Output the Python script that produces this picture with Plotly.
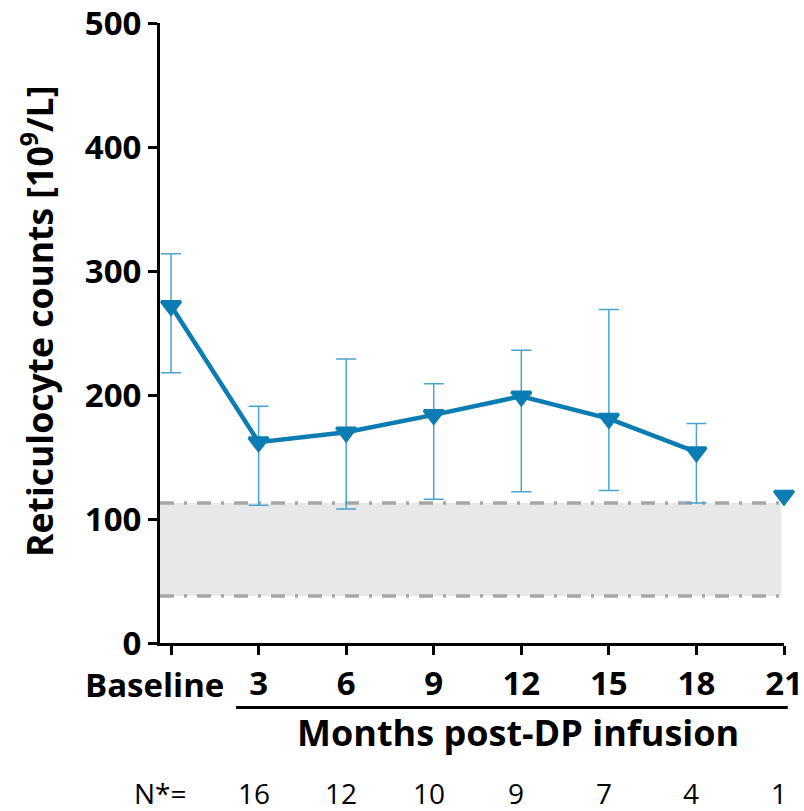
import plotly.graph_objects as go

categories = ["Baseline", "3", "6", "9", "12", "15", "18", "21"]
means = [272, 162, 170, 184, 199, 181, 154, 119]
upper = [314, 191, 229, 209, 236, 269, 177, None]
lower = [218, 111, 108, 116, 122, 123, 113, None]
n_counts = ["16", "12", "10", "9", "7", "4", "1"]
normal_low = 38
normal_high = 113
y_ticks = [0, 100, 200, 300, 400, 500]

BLUE = "#0B7DB3"
ERR = "#4AA3D0"
GRAY = "#A6A6A6"
FONT = "Open Sans"

idx = list(range(len(categories)))
line_x = idx[:-1]
line_y = means[:-1]
err_plus = [u - m for u, m in zip(upper[:-1], means[:-1])]
err_minus = [m - l for l, m in zip(lower[:-1], means[:-1])]

xmin = -0.126
xmax = 7

marker_style = dict(symbol="triangle-down", size=17, color=BLUE,
                    line=dict(color=BLUE, width=3))

fig = go.Figure()

fig.add_trace(go.Scatter(
    x=line_x, y=line_y, mode="lines+markers",
    line=dict(color=BLUE, width=4.5),
    marker=marker_style,
    error_y=dict(type="data", symmetric=False, array=err_plus,
                 arrayminus=err_minus, color=ERR, thickness=1.5, width=10),
    cliponaxis=False, showlegend=False,
))
fig.add_trace(go.Scatter(
    x=[idx[-1]], y=[means[-1]], mode="markers",
    marker=marker_style,
    cliponaxis=False, showlegend=False,
))

fig.add_shape(type="rect", xref="x", yref="y", x0=xmin, x1=6.97,
              y0=normal_low, y1=normal_high, fillcolor="#E8E8E8",
              line=dict(width=0), layer="below")
for yv in (normal_low, normal_high):
    fig.add_shape(type="line", xref="x", yref="y", x0=xmin, x1=6.97,
                  y0=yv, y1=yv, layer="below",
                  line=dict(color=GRAY, width=3.5, dash="14px,10px,3px,10px"))

fig.add_shape(type="line", xref="paper", yref="paper", x0=0.122, x1=1.006,
              y0=-0.104, y1=-0.104, line=dict(color="black", width=3))

tick_font = dict(family=FONT, size=33, color="black", weight="bold")
n_font = dict(family=FONT, size=28, color="black")

annotations = [
    dict(text=categories[0], xref="x", yref="paper", x=idx[0], y=-0.0677,
         xanchor="right", yanchor="middle", xshift=55, showarrow=False,
         font=tick_font),
    dict(text="Months post-DP infusion", xref="paper", yref="paper",
         x=0.574, y=-0.145, xanchor="center", yanchor="middle", showarrow=False,
         font=dict(family=FONT, size=36, color="black", weight="bold")),
    dict(text="Reticulocyte counts [10<sup>9</sup>/L]", xref="paper", yref="paper",
         x=-0.196, y=0.519, xanchor="center", yanchor="middle",
         textangle=-90, showarrow=False,
         font=dict(family=FONT, size=35.5, color="black", weight="bold")),
    dict(text="N*=", xref="paper", yref="paper", x=0.0, y=-0.242,
         xanchor="center", yanchor="middle",
         showarrow=False, font=n_font),
]
for i, n in enumerate(n_counts):
    annotations.append(dict(text=n, xref="x", yref="paper", x=idx[i + 1],
                            y=-0.242, xshift=-5, xanchor="center", yanchor="middle",
                            showarrow=False, font=n_font))

fig.update_layout(
    width=804, height=811,
    margin=dict(l=160, r=20, t=23, b=168),
    plot_bgcolor="white", paper_bgcolor="white",
    font=dict(family=FONT, color="black"),
    annotations=annotations,
    xaxis=dict(
        range=[xmin, xmax], tickmode="array", tickvals=idx,
        ticktext=[""] + categories[1:],
        showline=True, linecolor="black", linewidth=3,
        ticks="outside", ticklen=9, tickwidth=2.5, tickcolor="black",
        showgrid=False, zeroline=False, automargin=False,
        ticklabeloverflow="allow",
        tickfont=tick_font,
    ),
    yaxis=dict(
        range=[0, 500], tickmode="array", tickvals=y_ticks,
        showline=True, linecolor="black", linewidth=3,
        ticks="outside", ticklen=9, tickwidth=2.5, tickcolor="black",
        showgrid=False, zeroline=False, automargin=False,
        ticklabeloverflow="allow",
        tickfont=tick_font,
    ),
)

fig.write_html("out.html")
